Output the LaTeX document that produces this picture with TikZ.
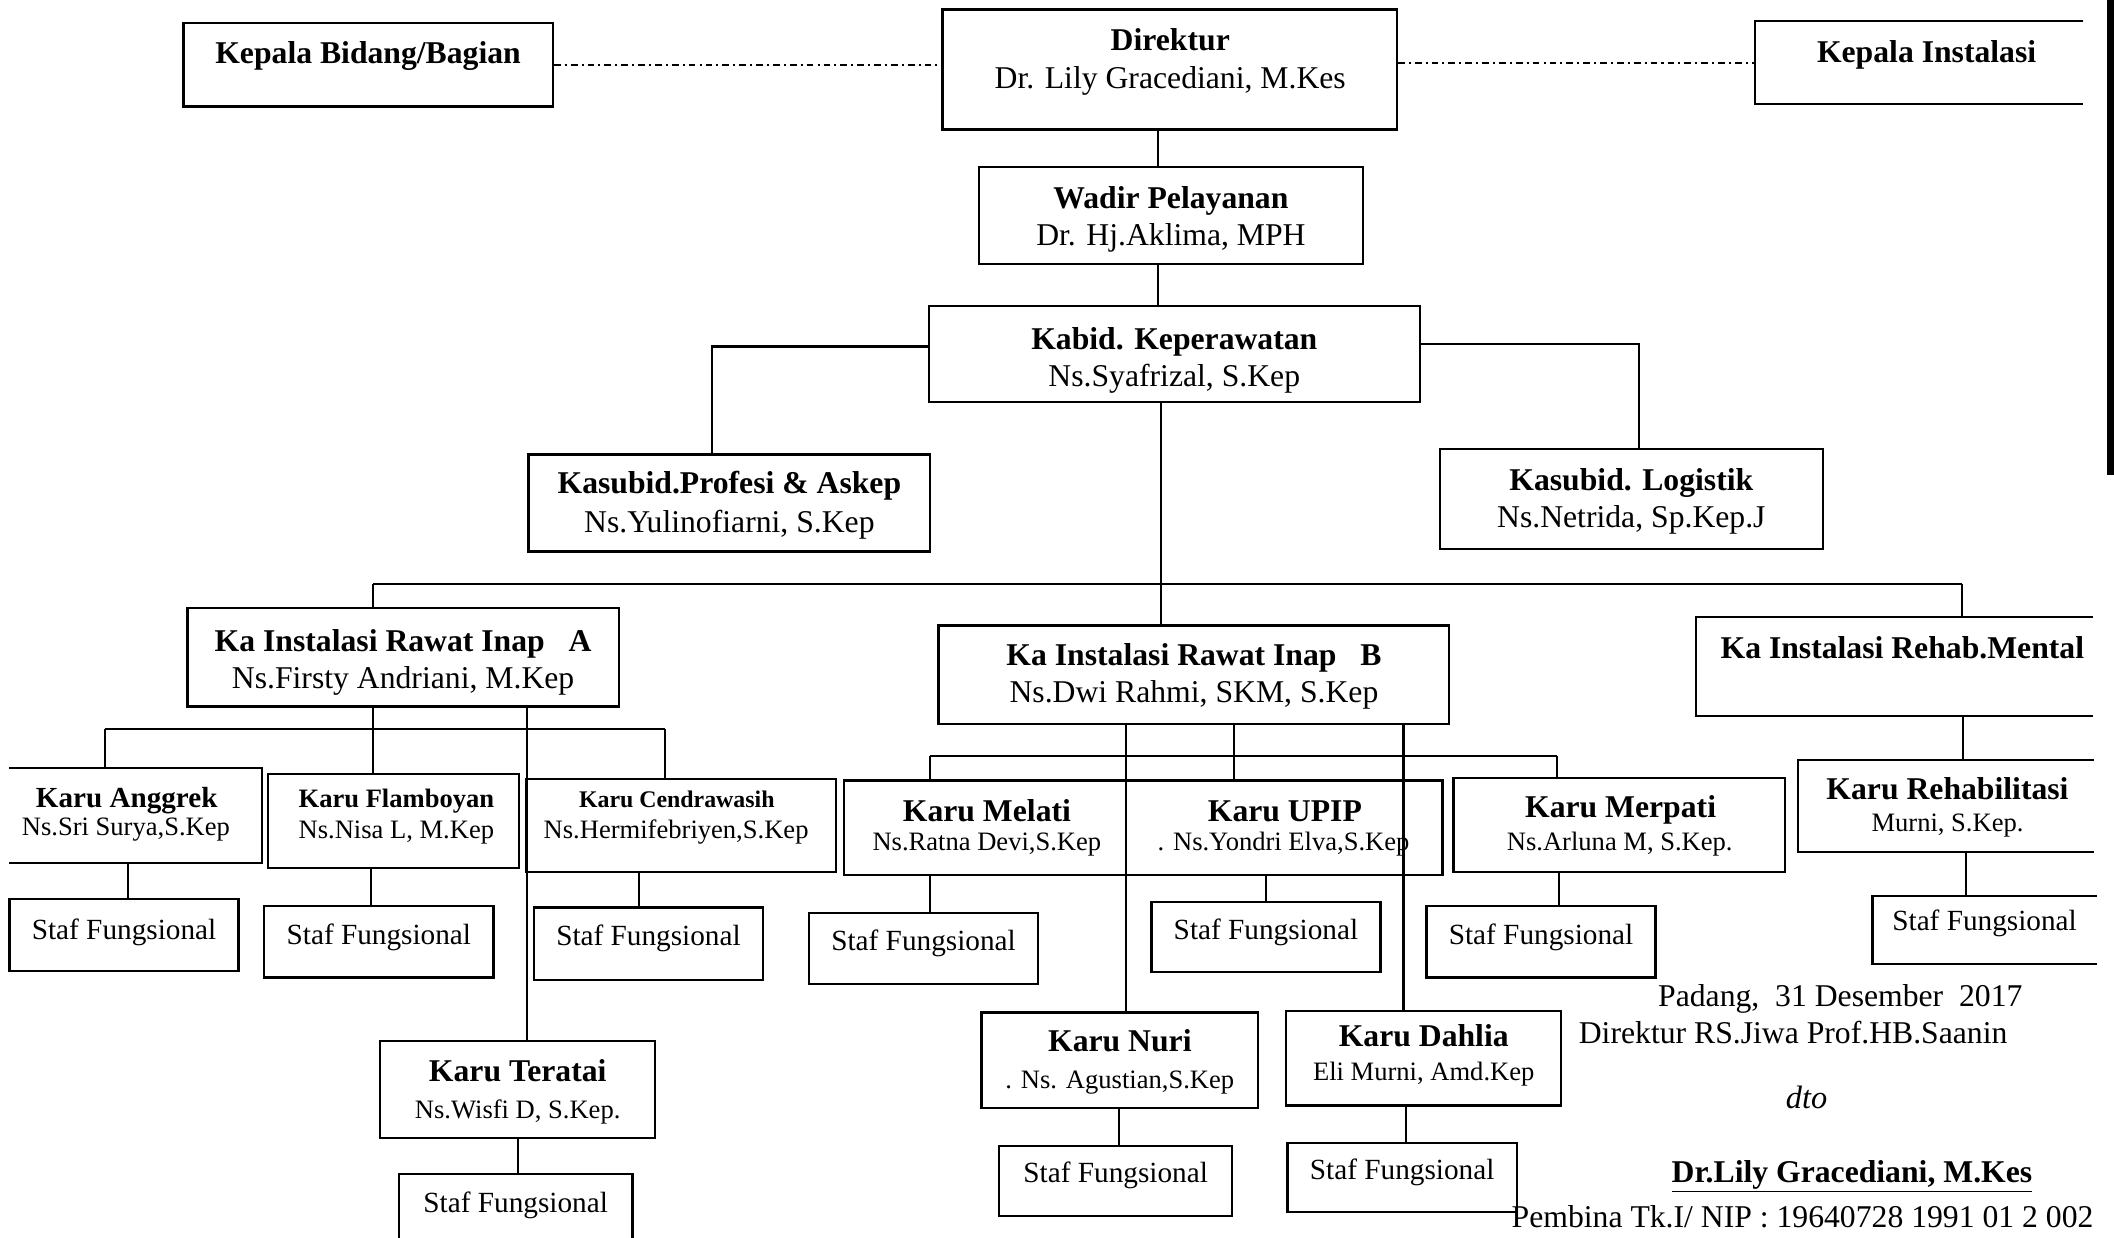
\documentclass[tikz,border=0pt]{standalone}
\usepackage{fontspec}
\setmainfont{Liberation Serif}
\newcommand\mybox[6][box]{\node[#1, minimum width={(#4-#2)*1pt}, minimum height={(#5-#3)*1pt}] (#6) at ({(#2+#4)/2},{(#3+#5)/2}) {};}
\tikzset{
  box/.style={draw, line width=1.7pt, inner sep=0pt},
  obox/.style={inner sep=0pt},
  bl/.style={line width=1.7pt},
  ln/.style={line width=1.5pt},
  dd/.style={line width=1.4pt, dash pattern=on 5pt off 3pt on 1.5pt off 3pt},
  T/.style={anchor=base, inner sep=0pt, font=\fontsize{23.5}{28}\selectfont\bfseries},
  Tm/.style={anchor=base, inner sep=0pt, font=\fontsize{21.6}{26}\selectfont\bfseries},
  Ts/.style={anchor=base, inner sep=0pt, font=\fontsize{19.7}{24}\selectfont\bfseries},
  Tx/.style={anchor=base, inner sep=0pt, font=\fontsize{17.7}{22}\selectfont\bfseries},
  N/.style={anchor=base, inner sep=0pt, font=\fontsize{23.5}{28}\selectfont},
  n/.style={anchor=base, inner sep=0pt, font=\fontsize{19.7}{24}\selectfont},
  S/.style={anchor=base, inner sep=0pt, font=\fontsize{21.7}{26}\selectfont},
}
\begin{document}
\begin{tikzpicture}[x=1pt, y=-1pt]
\useasboundingbox (0,0) rectangle (1568,918);
% boxes
\mybox{136}{17}{410}{79}{kbb}
\mybox{699}{7}{1036}{96}{dir}
\mybox[obox]{1302}{16}{1545}{77}{kinst}
\mybox{726}{124}{1011}{196}{wadir}
\mybox{689}{227}{1053}{298}{kabid}
\mybox{392}{337}{690}{409}{kprof}
\mybox{1068}{333}{1352}{407}{klog}
\mybox{139}{451}{459}{524}{kaA}
\mybox{696}{464}{1075}{537}{kaB}
\mybox[obox]{1258}{458}{1552}{531}{kaR}
\mybox[obox]{7}{570}{194}{640}{kAng}
\mybox{199}{574}{385}{644}{kFla}
\mybox{390}{578}{620}{647}{kCen}
\mybox{626}{579}{835}{649}{kMel}
\mybox{835}{579}{1070}{649}{kUpip}
\mybox{1078}{577}{1324}{647}{kMer}
\mybox[obox]{1334}{564}{1553}{632}{kReh}
\mybox{7}{667}{177}{720}{sAng}
\mybox{196}{672}{366}{725}{sFla}
\mybox{396}{673}{566}{727}{sCen}
\mybox{600}{677}{770}{730}{sMel}
\mybox{854}{669}{1024}{721}{sUpip}
\mybox{1058}{672}{1228}{725}{sMer}
\mybox[obox]{1389}{665}{1555}{715}{sReh}
\mybox{282}{772}{486}{844}{kTer}
\mybox[obox]{296}{871}{469}{918}{sTer}
\mybox{728}{751}{933}{822}{kNuri}
\mybox{741}{850}{914}{902}{sNuri}
\mybox{954}{750}{1158}{820}{kDah}
\mybox{955}{848}{1125}{899}{sDah}
% open boxes
\draw[bl] (kinst.north east) -- (kinst.north west) -- (kinst.south west) -- (kinst.south east);
\draw[bl] (kaR.north east) -- (kaR.north west) -- (kaR.south west) -- (kaR.south east);
\draw[bl] (kReh.north east) -- (kReh.north west) -- (kReh.south west) -- (kReh.south east);
\draw[bl] (sReh.north east) -- (sReh.north west) -- (sReh.south west) -- (sReh.south east);
\draw[bl] (kAng.north west) -- (kAng.north east) -- (kAng.south east) -- (kAng.south west);
\draw[bl] (sTer.south west) -- (sTer.north west) -- (sTer.north east) -- (sTer.south east);
% scan edge
\fill (1563,0) rectangle (1568,352);
% reference coordinates
\foreach \v in {78,95,275,277,384,391,474,493,528,690,830,835,859,861,915,939,1041,1043,1155,1156,1216,1455,1456,1458}
  {\coordinate (v\v) at (\v,0);}
\coordinate (hA) at (0,433);
\coordinate (hAa) at (0,541);
\coordinate (hB) at (0,561);
% connectors
\draw[dd] (kbb.east) -- (kbb.east -| dir.west);
\draw[dd] (dir.east |- kinst.west) -- (kinst.west);
\draw[ln] (dir.south -| v859) -- (wadir.north -| v859);
\draw[ln] (wadir.south -| v859) -- (kabid.north -| v859);
\draw[ln] ([yshift=5.5pt]kabid.west) -| (kprof.north -| v528);
\draw[ln] ([yshift=7pt]kabid.east) -| (klog.north -| v1216);
\draw[ln] (kabid.south -| v861) -- (kaB.north -| v861);
\draw[ln] (hA -| v277) -- (hA -| v1455);
\draw[ln] (hA -| v277) -- (kaA.north -| v277);
\draw[ln] (hA -| v1455) -- (kaR.north -| v1455);
% group A
\draw[ln] (hAa -| v78) -- (hAa -| v493);
\draw[ln] (kaA.south -| v277) -- (kFla.north -| v277);
\draw[ln] (kaA.south -| v391) -- (kTer.north -| v391);
\draw[ln] (hAa -| v78) -- (kAng.north -| v78);
\draw[ln] (hAa -| v493) -- (kCen.north -| v493);
\draw[ln] (kAng.south -| v95) -- (sAng.north -| v95);
\draw[ln] (kFla.south -| v275) -- (sFla.north -| v275);
\draw[ln] (kCen.south -| v474) -- (sCen.north -| v474);
\draw[ln] (kTer.south -| v384) -- (sTer.north -| v384);
% group B
\draw[ln] (kaB.south -| v835) -- (kNuri.north -| v835);
\draw[ln] (kaB.south -| v915) -- (kUpip.north -| v915);
\draw[ln] (kaB.south -| v1041) -- (kDah.north -| v1041);
\draw[ln] (hB -| v690) -- (hB -| v1155);
\draw[ln] (hB -| v690) -- (kMel.north -| v690);
\draw[ln] (hB -| v1155) -- (kMer.north -| v1155);
\draw[ln] (kMel.south -| v690) -- (sMel.north -| v690);
\draw[ln] (kUpip.south -| v939) -- (sUpip.north -| v939);
\draw[ln] (kMer.south -| v1156) -- (sMer.north -| v1156);
\draw[ln] (kNuri.south -| v830) -- (sNuri.north -| v830);
\draw[ln] (kDah.south -| v1043) -- (sDah.north -| v1043);
% rehab
\draw[ln] (kaR.south -| v1456) -- (kReh.north -| v1456);
\draw[ln] (kReh.south -| v1458) -- (sReh.north -| v1458);
% texts
\node[T] (t-kbb) at (273,47.3) {Kepala Bidang/Bagian};
\node[T] (t-dir1) at (868,37.4) {Direktur};
\node[N] (t-dir2) at (868,66) {Dr. Lily Gracediani, M.Kes};
\node[T] (t-kinst) at (1429,46) {Kepala Instalasi};
\node[T] (t-wad1) at (868.5,154.4) {Wadir Pelayanan};
\node[N] (t-wad2) at (868.5,181.8) {Dr. Hj.Aklima, MPH};
\node[T] (t-kab1) at (871,259) {Kabid. Keperawatan};
\node[N] (t-kab2) at (871,286.4) {Ns.Syafrizal, S.Kep};
\node[T] (t-kp1) at (541,366.4) {Kasubid.Profesi \& Askep};
\node[N] (t-kp2) at (541,395) {Ns.Yulinofiarni, S.Kep};
\node[T] (t-kl1) at (1210,364) {Kasubid. Logistik};
\node[N] (t-kl2) at (1210,391.3) {Ns.Netrida, Sp.Kep.J};
\node[T] (t-a1) at (299,483.5) {Ka Instalasi Rawat Inap\ \ \ A};
\node[N] (t-a2) at (299,510.8) {Ns.Firsty Andriani, M.Kep};
\node[T] (t-b1) at (885.6,493.4) {Ka Instalasi Rawat Inap\ \ \ B};
\node[N] (t-b2) at (885.6,520.8) {Ns.Dwi Rahmi, SKM, S.Kep};
\node[T] (t-r1) at (1411,488.4) {Ka Instalasi Rehab.Mental};
\node[Tm] (t-ang1) at (94,599.2) {Karu Anggrek};
\node[n] (t-ang2) at (93.4,619.4) {Ns.Sri Surya,S.Kep};
\node[Ts] (t-fla1) at (294,599.2) {Karu Flamboyan};
\node[n] (t-fla2) at (294,621.9) {Ns.Nisa L, M.Kep};
\node[Tx] (t-cen1) at (502,599) {Karu Cendrawasih};
\node[n] (t-cen2) at (501.5,622) {Ns.Hermifebriyen,S.Kep};
\node[T] (t-mel1) at (732,609.2) {Karu Melati};
\node[n] (t-mel2) at (732,630.6) {Ns.Ratna Devi,S.Kep};
\node[T] (t-up1) at (953,609.2) {Karu UPIP};
\node[n] (t-up2) at (952,630.6) {. Ns.Yondri Elva,S.Kep};
\node[T] (t-mer1) at (1202,606.7) {Karu Merpati};
\node[n] (t-mer2) at (1201.4,630.6) {Ns.Arluna M, S.Kep.};
\node[T] (t-reh1) at (1444.5,593) {Karu Rehabilitasi};
\node[n] (t-reh2) at (1444.5,616.9) {Murni, S.Kep.};
\node[S] (t-sAng) at (92,696.6) {Staf Fungsional};
\node[S] (t-sFla) at (281,700.3) {Staf Fungsional};
\node[S] (t-sCen) at (481,701.6) {Staf Fungsional};
\node[S] (t-sMel) at (685,705.3) {Staf Fungsional};
\node[S] (t-sUp) at (939,696.6) {Staf Fungsional};
\node[S] (t-sMer) at (1143,700.3) {Staf Fungsional};
\node[S] (t-sReh) at (1472,690.4) {Staf Fungsional};
\node[T] (t-ter1) at (384,802.4) {Karu Teratai};
\node[n] (t-ter2) at (384,829.8) {Ns.Wisfi D, S.Kep.};
\node[S] (t-sTer) at (382.5,899.5) {Staf Fungsional};
\node[T] (t-nur1) at (830.6,780) {Karu Nuri};
\node[n] (t-nur2) at (830.6,807.4) {. Ns. Agustian,S.Kep};
\node[S] (t-sNur) at (827.5,877.1) {Staf Fungsional};
\node[T] (t-dah1) at (1056,776.3) {Karu Dahlia};
\node[n] (t-dah2) at (1056,801.2) {Eli Murni, Amd.Kep};
\node[S] (t-sDah) at (1040,874.6) {Staf Fungsional};
% signature
\node[N] (sig1) at (1365,746.4) {Padang,\ \ 31 Desember\ \ 2017};
\node[N] (sig2) at (1330,773.8) {Direktur RS.Jiwa Prof.HB.Saanin};
\node[N, font=\fontsize{24}{28}\selectfont\itshape] (sig3) at (1340,822) {dto};
\node[T] (sig4) at (1373.6,877.1) {\underline{Dr.Lily Gracediani, M.Kes}};
\node[N] (sig5) at (1337,910.7) {Pembina Tk.I/ NIP : 19640728 1991 01 2 002};
\end{tikzpicture}
\end{document}
